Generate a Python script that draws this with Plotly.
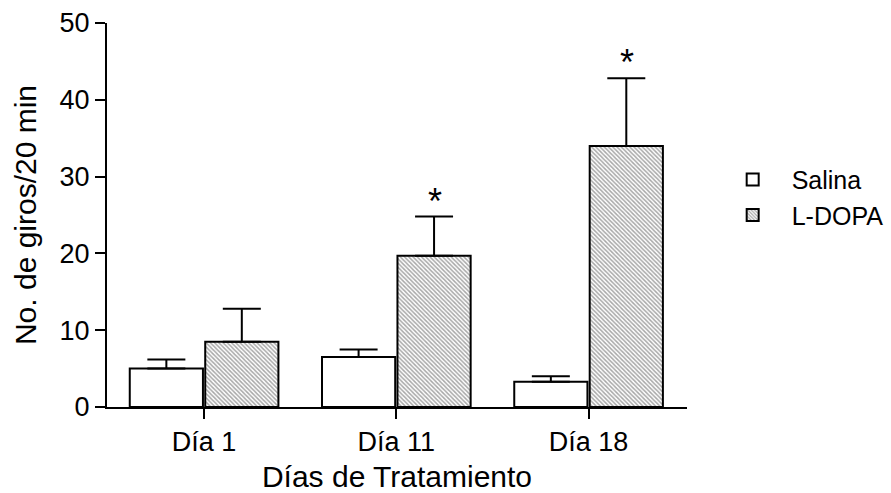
import plotly.graph_objects as go

categories = ["Día 1", "Día 11", "Día 18"]
salina = [5.0, 6.5, 3.3]
salina_err = [1.2, 1.0, 0.7]
ldopa = [8.5, 19.7, 34.0]
ldopa_err = [4.3, 5.1, 8.8]
significant = [False, True, True]

FONT = "Liberation Sans, Arial, sans-serif"
xpos = list(range(len(categories)))

fig = go.Figure()
fig.add_trace(go.Bar(
    x=xpos, y=salina, name="Salina",
    marker=dict(color="white", line=dict(color="black", width=2)),
    error_y=dict(type="data", symmetric=False, array=salina_err,
                 arrayminus=[0] * len(salina_err), color="black",
                 thickness=2, width=19),
))
fig.add_trace(go.Bar(
    x=xpos, y=ldopa, name="L-DOPA",
    marker=dict(color="white", line=dict(color="black", width=2),
                pattern=dict(shape="\\", size=3, solidity=0.5,
                             fgcolor="#505050", bgcolor="white",
                             fillmode="overlay")),
    error_y=dict(type="data", symmetric=False, array=ldopa_err,
                 arrayminus=[0] * len(ldopa_err), color="black",
                 thickness=2, width=19),
))

for i, sig in enumerate(significant):
    if sig:
        fig.add_annotation(x=xpos[i] + 0.2, y=ldopa[i] + ldopa_err[i],
                           text="*", showarrow=False, yanchor="bottom",
                           yshift=-7, font=dict(family=FONT, size=36, color="black"))

fig.update_layout(
    width=891, height=493,
    margin=dict(l=107, r=204, t=23, b=86, autoexpand=False),
    paper_bgcolor="white", plot_bgcolor="white",
    barmode="group", bargap=0.215, bargroupgap=0.03,
    font=dict(family=FONT, color="black"),
    legend=dict(x=1.046, y=0.652, xanchor="left", yanchor="top",
                font=dict(family=FONT, size=25, color="black"),
                tracegroupgap=0, itemwidth=68, bgcolor="rgba(0,0,0,0)"),
    showlegend=True,
)
fig.update_xaxes(
    range=[-0.505, 2.512], tickvals=xpos, ticktext=categories,
    showline=True, linecolor="black", linewidth=2,
    ticks="outside", ticklen=10, tickwidth=2, tickcolor="black",
    showgrid=False, zeroline=False, automargin=False,
    tickfont=dict(family=FONT, size=27, color="black"),
    title=dict(text="Días de Tratamiento", font=dict(family=FONT, size=30, color="black"),
               standoff=10),
)
fig.update_yaxes(
    range=[0, 50], tickvals=[0, 10, 20, 30, 40, 50],
    showline=True, linecolor="black", linewidth=2,
    ticks="outside", ticklen=10, tickwidth=2, tickcolor="black",
    showgrid=False, zeroline=False, automargin=False,
    tickfont=dict(family=FONT, size=27, color="black"),
    title=dict(text="No. de giros/20 min", font=dict(family=FONT, size=30, color="black"),
               standoff=14),
)

fig.write_html("out.html")
